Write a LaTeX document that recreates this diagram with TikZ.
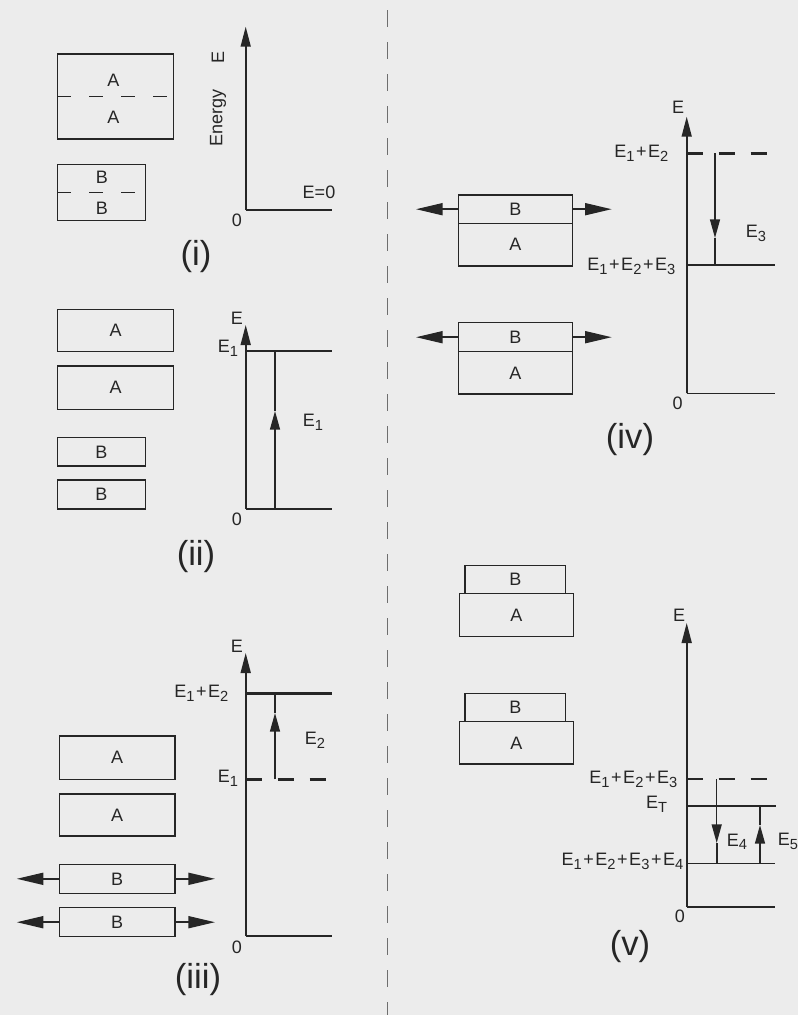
\documentclass[tikz,border=0pt]{standalone}
\usepackage{fontspec}
\setmainfont{Liberation Sans}
\usepackage{xcolor}
\usetikzlibrary{arrows.meta,positioning}

\definecolor{paper}{RGB}{236,236,236}
\definecolor{inkc}{RGB}{38,38,38}
\definecolor{rulec}{RGB}{110,110,110}
\newcommand{\En}[1]{E\raisebox{-0.4ex}{\fontsize{11}{12}\selectfont #1}}
\newcommand{\pl}{\kern1.2pt+\kern1.2pt}

\begin{document}
\begin{tikzpicture}[
  x=0.75pt, y=-0.75pt,
  font=\fontsize{13.5}{15}\selectfont,
  text=inkc,
  slab/.style 2 args={draw=inkc, line width=0.9pt, inner sep=0pt,
    minimum width=#1*0.75pt, minimum height=#2*0.75pt},
  cut/.style={draw=inkc, line width=0.9pt, dash pattern=on 10.5pt off 13.5pt},
  axis/.style={draw=inkc, line width=1.2pt, -{Triangle[length=15pt,width=7.5pt]}},
  base/.style={draw=inkc, line width=1.2pt},
  level/.style={draw=inkc, line width=2.1pt},
  vlevel/.style={level, dash pattern=on 12pt off 12pt},
  trans/.style={draw=inkc, line width=1.1pt, -{Triangle[length=14pt,width=7.5pt]}},
  push/.style={draw=inkc, line width=1.3pt, -{Triangle[length=20pt,width=9pt]}},
  divider/.style={draw=rulec, line width=1.1pt, dash pattern=on 12.75pt off 11.25pt},
  stage/.style={font=\fontsize{26}{30}\selectfont}
]
  \fill[paper] (0,0) rectangle (798,1015);
  \useasboundingbox (0,0) rectangle (798,1015);

  % divider
  \coordinate (divtop) at (387.3,10);
  \coordinate (divbot) at (387.3,1015);
  \draw[divider] (divtop) -- (divbot);

  % (i)
  \node[slab={116}{85}] (aa1) at (115.7,96.5) {};
  \draw[cut] (aa1.west) -- (aa1.east);
  \node (aa1t) at (113.5,80) {A};
  \node (aa1b) at (113.5,117) {A};
  \node[slab={87.6}{56.4}] (bb1) at (101.5,192.5) {};
  \draw[cut] (bb1.west) -- (bb1.east);
  \node (bb1t) at (102,177) {B};
  \node (bb1b) at (102,208) {B};
  \coordinate (o1) at (245.7,210);
  \coordinate (top1) at (245.7,26.7);
  \coordinate (end1) at (331.7,210);
  \draw[axis] (o1) -- (top1);
  \draw[base] (o1) -- (end1);
  \node[rotate=90] (energy) at (218,118) {Energy};
  \node[rotate=90] (e1) at (218,57) {E};
  \node (zero1lbl) at (319,192) {E=0};
  \node (zero1) at (237,220) {0};
  \node[stage] (st1) at (196,257) {(i)};

  % (ii)
  \node[slab={116}{42.4}] (a2u) at (115.7,330.5) {A};
  \node[slab={116}{43.3}] (a2l) at (115.7,387.7) {A};
  \node[slab={87.6}{28.3}] (b2u) at (101.5,451.8) {B};
  \node[slab={87.6}{29}] (b2l) at (101.5,494.5) {B};
  \coordinate (o2) at (245.7,509);
  \coordinate (top2) at (245.7,325);
  \coordinate (end2) at (331.7,509);
  \coordinate (lv2) at (245.7,351);
  \coordinate (lv2e) at (331.7,351);
  \coordinate (up2a) at (275,509);
  \coordinate (up2h) at (275,411);
  \coordinate (up2b) at (275,351);
  \draw[axis] (o2) -- (top2);
  \draw[base] (o2) -- (end2);
  \draw[level] (lv2) -- (lv2e);
  \draw[trans] (up2a) -- (up2h);
  \draw[base] (up2h) -- (up2b);
  \node (e2) at (237,318) {E};
  \node (lv2lbl) at (228,348) {\En{1}};
  \node (up2lbl) at (313,422) {\En{1}};
  \node (zero2) at (237,519) {0};
  \node[stage] (st2) at (196,557) {(ii)};

  % (iii)
  \node[slab={115.7}{43.3}] (a3u) at (117.2,757.7) {A};
  \node[slab={115.7}{42}] (a3l) at (117.2,815) {A};
  \node[slab={115.7}{29}] (b3u) at (117.2,878.8) {B};
  \node[slab={115.7}{29}] (b3l) at (117.2,922.2) {B};
  \coordinate (b3uw) at (16.7,878.8);
  \coordinate (b3ue) at (215,878.8);
  \coordinate (b3lw) at (16.7,922.2);
  \coordinate (b3le) at (215,922.2);
  \draw[push] (b3u.west) -- (b3uw);
  \draw[push] (b3u.east) -- (b3ue);
  \draw[push] (b3l.west) -- (b3lw);
  \draw[push] (b3l.east) -- (b3le);
  \coordinate (o3) at (245.7,936);
  \coordinate (top3) at (245.7,653);
  \coordinate (end3) at (331.7,936);
  \coordinate (lv3a) at (245.7,693.3);
  \coordinate (lv3ae) at (331.7,693.3);
  \coordinate (lv3b) at (245.7,779.3);
  \coordinate (lv3be) at (331.7,779.3);
  \coordinate (up3a) at (275,779.3);
  \coordinate (up3h) at (275,713);
  \coordinate (up3b) at (275,693.3);
  \draw[axis] (o3) -- (top3);
  \draw[base] (o3) -- (end3);
  \draw[level] (lv3a) -- (lv3ae);
  \draw[vlevel] (lv3b) -- (lv3be);
  \draw[trans] (up3a) -- (up3h);
  \draw[base] (up3h) -- (up3b);
  \node (e3) at (237,646) {E};
  \node[anchor=east] (lv3albl) at (233,693) {\En{1}\pl\En{2}};
  \node (lv3blbl) at (228,778) {\En{1}};
  \node (up3lbl) at (315,740) {\En{2}};
  \node (zero3) at (237,947) {0};
  \node[stage] (st3) at (198,980) {(iii)};

  % (iv)
  \node[slab={114}{28.3}] (b4u) at (515.3,209.2) {B};
  \node[slab={114}{42.7}] (a4u) at (515.3,244.7) {A};
  \node[slab={114}{29}] (b4l) at (515.3,337.2) {B};
  \node[slab={114}{42.3}] (a4l) at (515.3,372.8) {A};
  \coordinate (b4uw) at (416,209.2);
  \coordinate (b4ue) at (611.7,209.2);
  \coordinate (b4lw) at (416,337.2);
  \coordinate (b4le) at (611.7,337.2);
  \draw[push] (b4u.west) -- (b4uw);
  \draw[push] (b4u.east) -- (b4ue);
  \draw[push] (b4l.west) -- (b4lw);
  \draw[push] (b4l.east) -- (b4le);
  \coordinate (o4) at (686.7,393.3);
  \coordinate (top4) at (686.7,116.7);
  \coordinate (end4) at (775,393.3);
  \coordinate (lv4a) at (686.7,153.3);
  \coordinate (lv4ae) at (770,153.3);
  \coordinate (lv4b) at (686.7,265);
  \coordinate (lv4be) at (775,265);
  \coordinate (dn4a) at (715,153.3);
  \coordinate (dn4h) at (715,238);
  \coordinate (dn4b) at (715,265);
  \draw[axis] (o4) -- (top4);
  \draw[base] (o4) -- (end4);
  \draw[vlevel] (lv4a) -- (lv4ae);
  \draw[level] (lv4b) -- (lv4be);
  \draw[trans] (dn4a) -- (dn4h);
  \draw[base] (dn4h) -- (dn4b);
  \node (e4) at (678,107) {E};
  \node[anchor=east] (lv4albl) at (673,153) {\En{1}\pl\En{2}};
  \node[anchor=east] (lv4blbl) at (680,266) {\En{1}\pl\En{2}\pl\En{3}};
  \node (dn4lbl) at (756,233) {\En{3}};
  \node (zero4) at (677.7,403.3) {0};
  \node[stage] (st4) at (630,440) {(iv)};

  % (v)
  \node[slab={100.7}{27.6}] (b5u) at (515.3,579.5) {B};
  \node[slab={114}{43.4}] (a5u) at (516.3,615) {A};
  \node[slab={100.7}{28.4}] (b5l) at (515.3,707.5) {B};
  \node[slab={114}{42.3}] (a5l) at (516.3,742.8) {A};
  \coordinate (o5) at (686.7,906.7);
  \coordinate (top5) at (686.7,623);
  \coordinate (end5) at (775,906.7);
  \coordinate (lv5a) at (686.7,779);
  \coordinate (lv5ae) at (770,779);
  \coordinate (lv5t) at (686.7,806);
  \coordinate (lv5te) at (776,806);
  \coordinate (lv5b) at (686.7,863.3);
  \coordinate (lv5be) at (775,863.3);
  \coordinate (dn5a) at (716.7,779);
  \coordinate (dn5h) at (716.7,843);
  \coordinate (dn5b) at (716.7,863.3);
  \coordinate (up5a) at (760,863.3);
  \coordinate (up5h) at (760,825);
  \coordinate (up5b) at (760,806);
  \draw[axis] (o5) -- (top5);
  \draw[base] (o5) -- (end5);
  \draw[vlevel] (lv5a) -- (lv5ae);
  \draw[level] (lv5t) -- (lv5te);
  \draw[base] (lv5b) -- (lv5be);
  \draw[trans] (dn5a) -- (dn5h);
  \draw[base] (dn5h) -- (dn5b);
  \draw[trans] (up5a) -- (up5h);
  \draw[base] (up5h) -- (up5b);
  \node (e5) at (679,615) {E};
  \node[anchor=east] (lv5albl) at (682,779) {\En{1}\pl\En{2}\pl\En{3}};
  \node (lv5tlbl) at (656.7,804) {\En{T}};
  \node[anchor=east] (lv5blbl) at (688,861) {\En{1}\pl\En{2}\pl\En{3}\pl\En{4}};
  \node (dn5lbl) at (737,841.7) {\En{4}};
  \node (up5lbl) at (788,841) {\En{5}};
  \node (zero5) at (680,916.7) {0};
  \node[stage] (st5) at (630,946.7) {(v)};
\end{tikzpicture}
\end{document}
